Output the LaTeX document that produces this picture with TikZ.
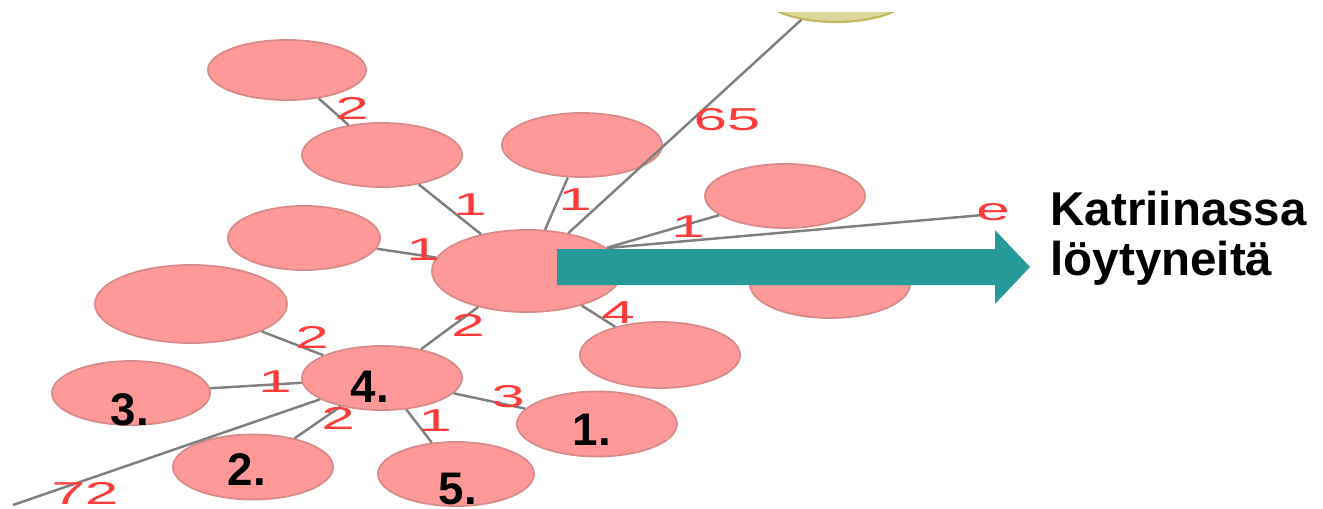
\documentclass[tikz,border=0pt]{standalone}
\usepackage{fontspec}
\setmainfont{Liberation Sans}
\newfontfamily\lblfont[FakeStretch=1.9]{Liberation Sans}
\usetikzlibrary{shapes.geometric}
\definecolor{ellfill}{HTML}{FF9999}
\definecolor{elldraw}{HTML}{D98A8A}
\definecolor{edgegray}{HTML}{808080}
\definecolor{lblred}{HTML}{FF3B3B}
\definecolor{teal2}{HTML}{269999}
\definecolor{yfill}{HTML}{DCD79A}
\definecolor{ydraw}{HTML}{C2B860}
\tikzset{
  ell/.style={ellipse, fill=ellfill, draw=elldraw, line width=0.5pt, inner sep=0pt},
  edgeline/.style={draw=edgegray, line width=0.7pt},
  lbl/.style={text=lblred, font=\lblfont\fontsize{9}{9}\selectfont, inner sep=0pt},
  num/.style={font=\bfseries\fontsize{13}{13}\selectfont, inner sep=0pt},
  bigtxt/.style={font=\bfseries\fontsize{13.5}{14.2}\selectfont, align=left, inner sep=0pt}
}
\begin{document}
\begin{tikzpicture}[x=0.01cm,y=-0.01cm]
\useasboundingbox (0,0) rectangle (1323,509);
% yellow partial node
\begin{scope}
\clip (0,12) rectangle (1323,509);
\node[ellipse, fill=yfill, draw=ydraw, line width=0.6pt, minimum width=1.6cm, minimum height=0.68cm, inner sep=0pt] (Y) at (836,-12) {};
\end{scope}
% nodes
\node[ell, minimum width=1.58cm, minimum height=0.60cm] (A) at (287,70) {};
\node[ell, minimum width=1.60cm, minimum height=0.64cm] (B) at (382,155) {};
\node[ell, minimum width=1.60cm, minimum height=0.64cm] (C) at (582,145) {};
\node[ell, minimum width=1.60cm, minimum height=0.64cm] (D) at (785,196) {};
\node[ell, minimum width=1.52cm, minimum height=0.64cm] (E) at (304,238) {};
\node[ell, minimum width=1.60cm, minimum height=0.68cm] (F) at (830,284) {};
\node[ell, minimum width=1.92cm, minimum height=0.78cm] (G) at (191,304) {};
\node[ell, minimum width=1.60cm, minimum height=0.66cm] (H) at (660,355) {};
\node[ell, minimum width=1.90cm, minimum height=0.82cm] (Hub) at (527,271) {};
\node[ell, minimum width=1.60cm, minimum height=0.64cm] (N4) at (382,378) {};
\node[ell, minimum width=1.58cm, minimum height=0.64cm] (N3) at (131,393) {};
\node[ell, minimum width=1.60cm, minimum height=0.65cm] (N2) at (253,467) {};
\node[ell, minimum width=1.56cm, minimum height=0.64cm] (N5) at (456,474) {};
\node[ell, minimum width=1.60cm, minimum height=0.65cm] (N1) at (597,424) {};
% free ends
\coordinate (eEnd) at (983,215);
\coordinate (end72) at (13,505);
% edges
\draw[edgeline] (A) -- (B);
\draw[edgeline] (B) -- (Hub);
\draw[edgeline] (E) -- (Hub);
\draw[edgeline] (C) -- (Hub);
\draw[edgeline] (Hub) -- (Y);
\draw[edgeline] (D) -- (Hub);
\draw[edgeline] (Hub.16) -- (eEnd);
\draw[edgeline] (Hub) -- (H);
\draw[edgeline] (Hub) -- (N4);
\draw[edgeline] (G) -- (N4);
\draw[edgeline] (N3) -- (N4);
\draw[edgeline] (N4) -- (N2);
\draw[edgeline] (N4) -- (end72);
\draw[edgeline] (N4) -- (N5);
\draw[edgeline] (N4) -- (N1);
% edge labels
\node[lbl] (lAB) at (352,108) {2};
\node[lbl] (lBH) at (470,205) {1};
\node[lbl] (lEH) at (423,250) {1};
\node[lbl] (lCH) at (575,200) {1};
\node[lbl] (lY) at (727,120) {65};
\node[lbl] (lDH) at (688,227) {1};
\node[lbl] (le) at (993,212) {e};
\node[lbl] (lHH) at (618,313) {4};
\node[lbl] (lH4) at (468,325) {2};
\node[lbl] (lG4) at (312,337) {2};
\node[lbl] (l34) at (275,382) {1};
\node[lbl] (l41) at (508,397) {3};
\node[lbl] (l45) at (435,421) {1};
\node[lbl] (l42) at (338,418) {2};
\node[lbl] (l72) at (85,493) {72};
% node numbers
\node[num] (t4) at (370,387) {4.};
\node[num] (t3) at (130,410) {3.};
\node[num] (t2) at (247,470) {2.};
\node[num] (t1) at (592,430) {1.};
\node[num] (t5) at (458,489) {5.};
% teal arrow
\fill[teal2] (557,249) -- (995,249) -- (995,230) -- (1030,267) -- (995,304) -- (995,285) -- (557,285) -- cycle;
% text
\node[bigtxt, anchor=north west] (txt) at (1050,190) {Katriinassa\\löytyneitä};
\end{tikzpicture}
\end{document}
